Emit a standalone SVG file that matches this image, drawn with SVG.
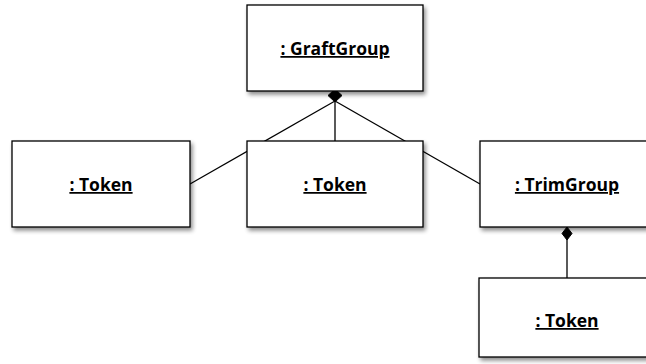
<svg xmlns="http://www.w3.org/2000/svg" width="646" height="364" viewBox="0 0 646 364">
<style>
.box{fill:#fff;stroke:#000;stroke-width:1.3}
.lbl{font-family:"Open Sans","Noto Sans",sans-serif;font-weight:bold;font-size:17.5px;text-anchor:middle;text-decoration:underline}
.ln{stroke:#000;stroke-width:1.3;fill:none}
.dia{fill:#000;stroke:#000}
</style>
<defs>
<filter id="sh" x="-10%" y="-10%" width="130%" height="130%">
<feGaussianBlur in="SourceAlpha" stdDeviation="2"/>
<feOffset dx="2" dy="3" result="b"/>
<feComponentTransfer><feFuncA type="linear" slope="0.45"/></feComponentTransfer>
<feMerge><feMergeNode/><feMergeNode in="SourceGraphic"/></feMerge>
</filter>
</defs>
<g id="connectors">
<line class="ln" x1="335" y1="101" x2="190" y2="184"/>
<line class="ln" x1="335" y1="101" x2="335" y2="141"/>
<line class="ln" x1="335" y1="101" x2="480" y2="184"/>
<polygon class="dia" points="335,89 342,95.5 335,102 328,95.5"/>
<line class="ln" x1="567" y1="239" x2="567" y2="278"/>
<polygon class="dia" points="567,227 572,233.5 567,240 562,233.5"/>
</g>
<g id="graftgroup">
<rect class="box" x="247" y="5" width="176" height="86" filter="url(#sh)"/>
<text class="lbl" x="335" y="55">: GraftGroup</text>
</g>
<g id="token1">
<rect class="box" x="12" y="141" width="178" height="86" filter="url(#sh)"/>
<text class="lbl" x="101" y="191">: Token</text>
</g>
<g id="token2">
<rect class="box" x="247" y="141" width="176" height="86" filter="url(#sh)"/>
<text class="lbl" x="335" y="191">: Token</text>
</g>
<g id="trimgroup">
<rect class="box" x="480" y="141" width="176" height="86" filter="url(#sh)"/>
<text class="lbl" x="567" y="191">: TrimGroup</text>
</g>
<g id="token3">
<rect class="box" x="479" y="278" width="176" height="79" filter="url(#sh)"/>
<text class="lbl" x="567" y="327">: Token</text>
</g>
</svg>
